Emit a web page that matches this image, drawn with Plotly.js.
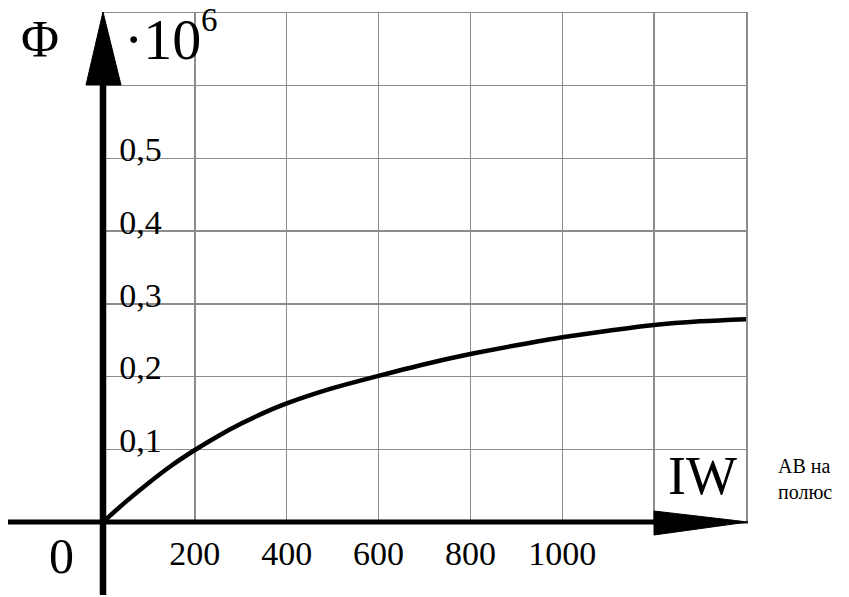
<!DOCTYPE html>
<html>
<head>
<meta charset="utf-8">
<script src="https://cdn.plot.ly/plotly-3.0.1.min.js"></script>
<style>html,body{margin:0;padding:0;background:#fff;}#chart{width:849px;height:597px;}</style>
</head>
<body>
<div id="chart"></div>
<script>
// Magnetisation curve data
const iw  = [0, 50, 100, 150, 200, 250, 300, 350, 400, 500, 600, 700, 800, 900, 1000, 1100, 1200, 1300, 1400];
const phi = [0, 0.028, 0.054, 0.078, 0.099, 0.118, 0.135, 0.150, 0.163, 0.184, 0.201, 0.217, 0.231, 0.243, 0.254, 0.263, 0.271, 0.276, 0.279];

const xTickVals = [200, 400, 600, 800, 1000, 1200];
const xTickText = ["200", "400", "600", "800", "1000", ""];
const yTickVals = [0.1, 0.2, 0.3, 0.4, 0.5, 0.6];
const yTickText = ["0,1", "0,2", "0,3", "0,4", "0,5", ""];

const W = 849, H = 597;
const M = {l: 103, r: 103, t: 13, b: 75};
const pw = W - M.l - M.r, ph = H - M.t - M.b;
const px = v => (v - M.l) / pw;          // pixel x -> paper
const py = v => (H - M.b - v) / ph;      // pixel y -> paper

const serif = "Liberation Serif, Times New Roman, serif";
const gridCol = "#8c8c8c";

const trace = {
  x: iw, y: phi, type: "scatter", mode: "lines",
  line: {color: "#000", width: 4.5, shape: "spline", smoothing: 1},
  hoverinfo: "skip", cliponaxis: false
};

const triY = `M ${px(86)},${py(85)} L ${px(121)},${py(85)} L ${px(103)},${py(12)} Z`;
const triX = `M ${px(654)},${py(511)} L ${px(654)},${py(535)} L ${px(748)},${py(522)} Z`;

const layout = {
  width: W, height: H,
  margin: M,
  paper_bgcolor: "#fff", plot_bgcolor: "#fff",
  showlegend: false,
  font: {family: serif, color: "#000"},
  xaxis: {
    range: [0, 1400], tickmode: "array", tickvals: xTickVals, ticktext: xTickText,
    showgrid: true, gridcolor: gridCol, gridwidth: 1.5, zeroline: false,
    showline: true, mirror: true, linecolor: gridCol, linewidth: 1.5,
    ticks: "", ticklabelstandoff: 1,
    tickfont: {family: serif, size: 34, color: "#000"}, fixedrange: true
  },
  yaxis: {
    range: [0, 0.7], tickmode: "array", tickvals: yTickVals, ticktext: yTickText,
    showgrid: true, gridcolor: gridCol, gridwidth: 1.5, zeroline: false,
    showline: true, mirror: true, linecolor: gridCol, linewidth: 1.5,
    ticks: "", ticklabelposition: "inside", ticklabelstandoff: 20, ticklabelshift: -9,
    tickfont: {family: serif, size: 34, color: "#000"}, fixedrange: true
  },
  shapes: [
    {type: "line", xref: "paper", yref: "paper", x0: px(8), x1: px(680), y0: py(522), y1: py(522),
     line: {color: "#000", width: 5}},
    {type: "line", xref: "paper", yref: "paper", x0: px(103), x1: px(103), y0: py(595), y1: py(60),
     line: {color: "#000", width: 6.5}},
    {type: "path", xref: "paper", yref: "paper", path: triY, fillcolor: "#000", line: {color: "#000", width: 1}},
    {type: "path", xref: "paper", yref: "paper", path: triX, fillcolor: "#000", line: {color: "#000", width: 1}}
  ],
  annotations: [
    {xref: "paper", yref: "paper", x: px(40), y: py(39), xanchor: "center", yanchor: "middle",
     text: "Φ", showarrow: false, font: {family: serif, size: 52, color: "#000"}},
    {xref: "paper", yref: "paper", x: px(122), y: py(39), xanchor: "left", yanchor: "middle",
     text: "·10", showarrow: false, font: {family: serif, size: 58, color: "#000"}},
    {xref: "paper", yref: "paper", x: px(199), y: py(20), xanchor: "left", yanchor: "middle",
     text: "6", showarrow: false, font: {family: serif, size: 33, color: "#000"}},
    {xref: "paper", yref: "paper", x: px(62), y: py(556), xanchor: "center", yanchor: "middle",
     text: "0", showarrow: false, font: {family: serif, size: 50, color: "#000"}},
    {xref: "paper", yref: "paper", x: px(702), y: py(476), xanchor: "center", yanchor: "middle",
     text: "IW", showarrow: false, font: {family: serif, size: 54, color: "#000"}},
    {xref: "paper", yref: "paper", x: px(776), y: py(479), xanchor: "left", yanchor: "middle", align: "left",
     text: "АВ на<br>полюс", showarrow: false, font: {family: serif, size: 20, color: "#000"}}
  ]
};

Plotly.newPlot("chart", [trace], layout, {staticPlot: true, displayModeBar: false});
</script>
</body>
</html>
